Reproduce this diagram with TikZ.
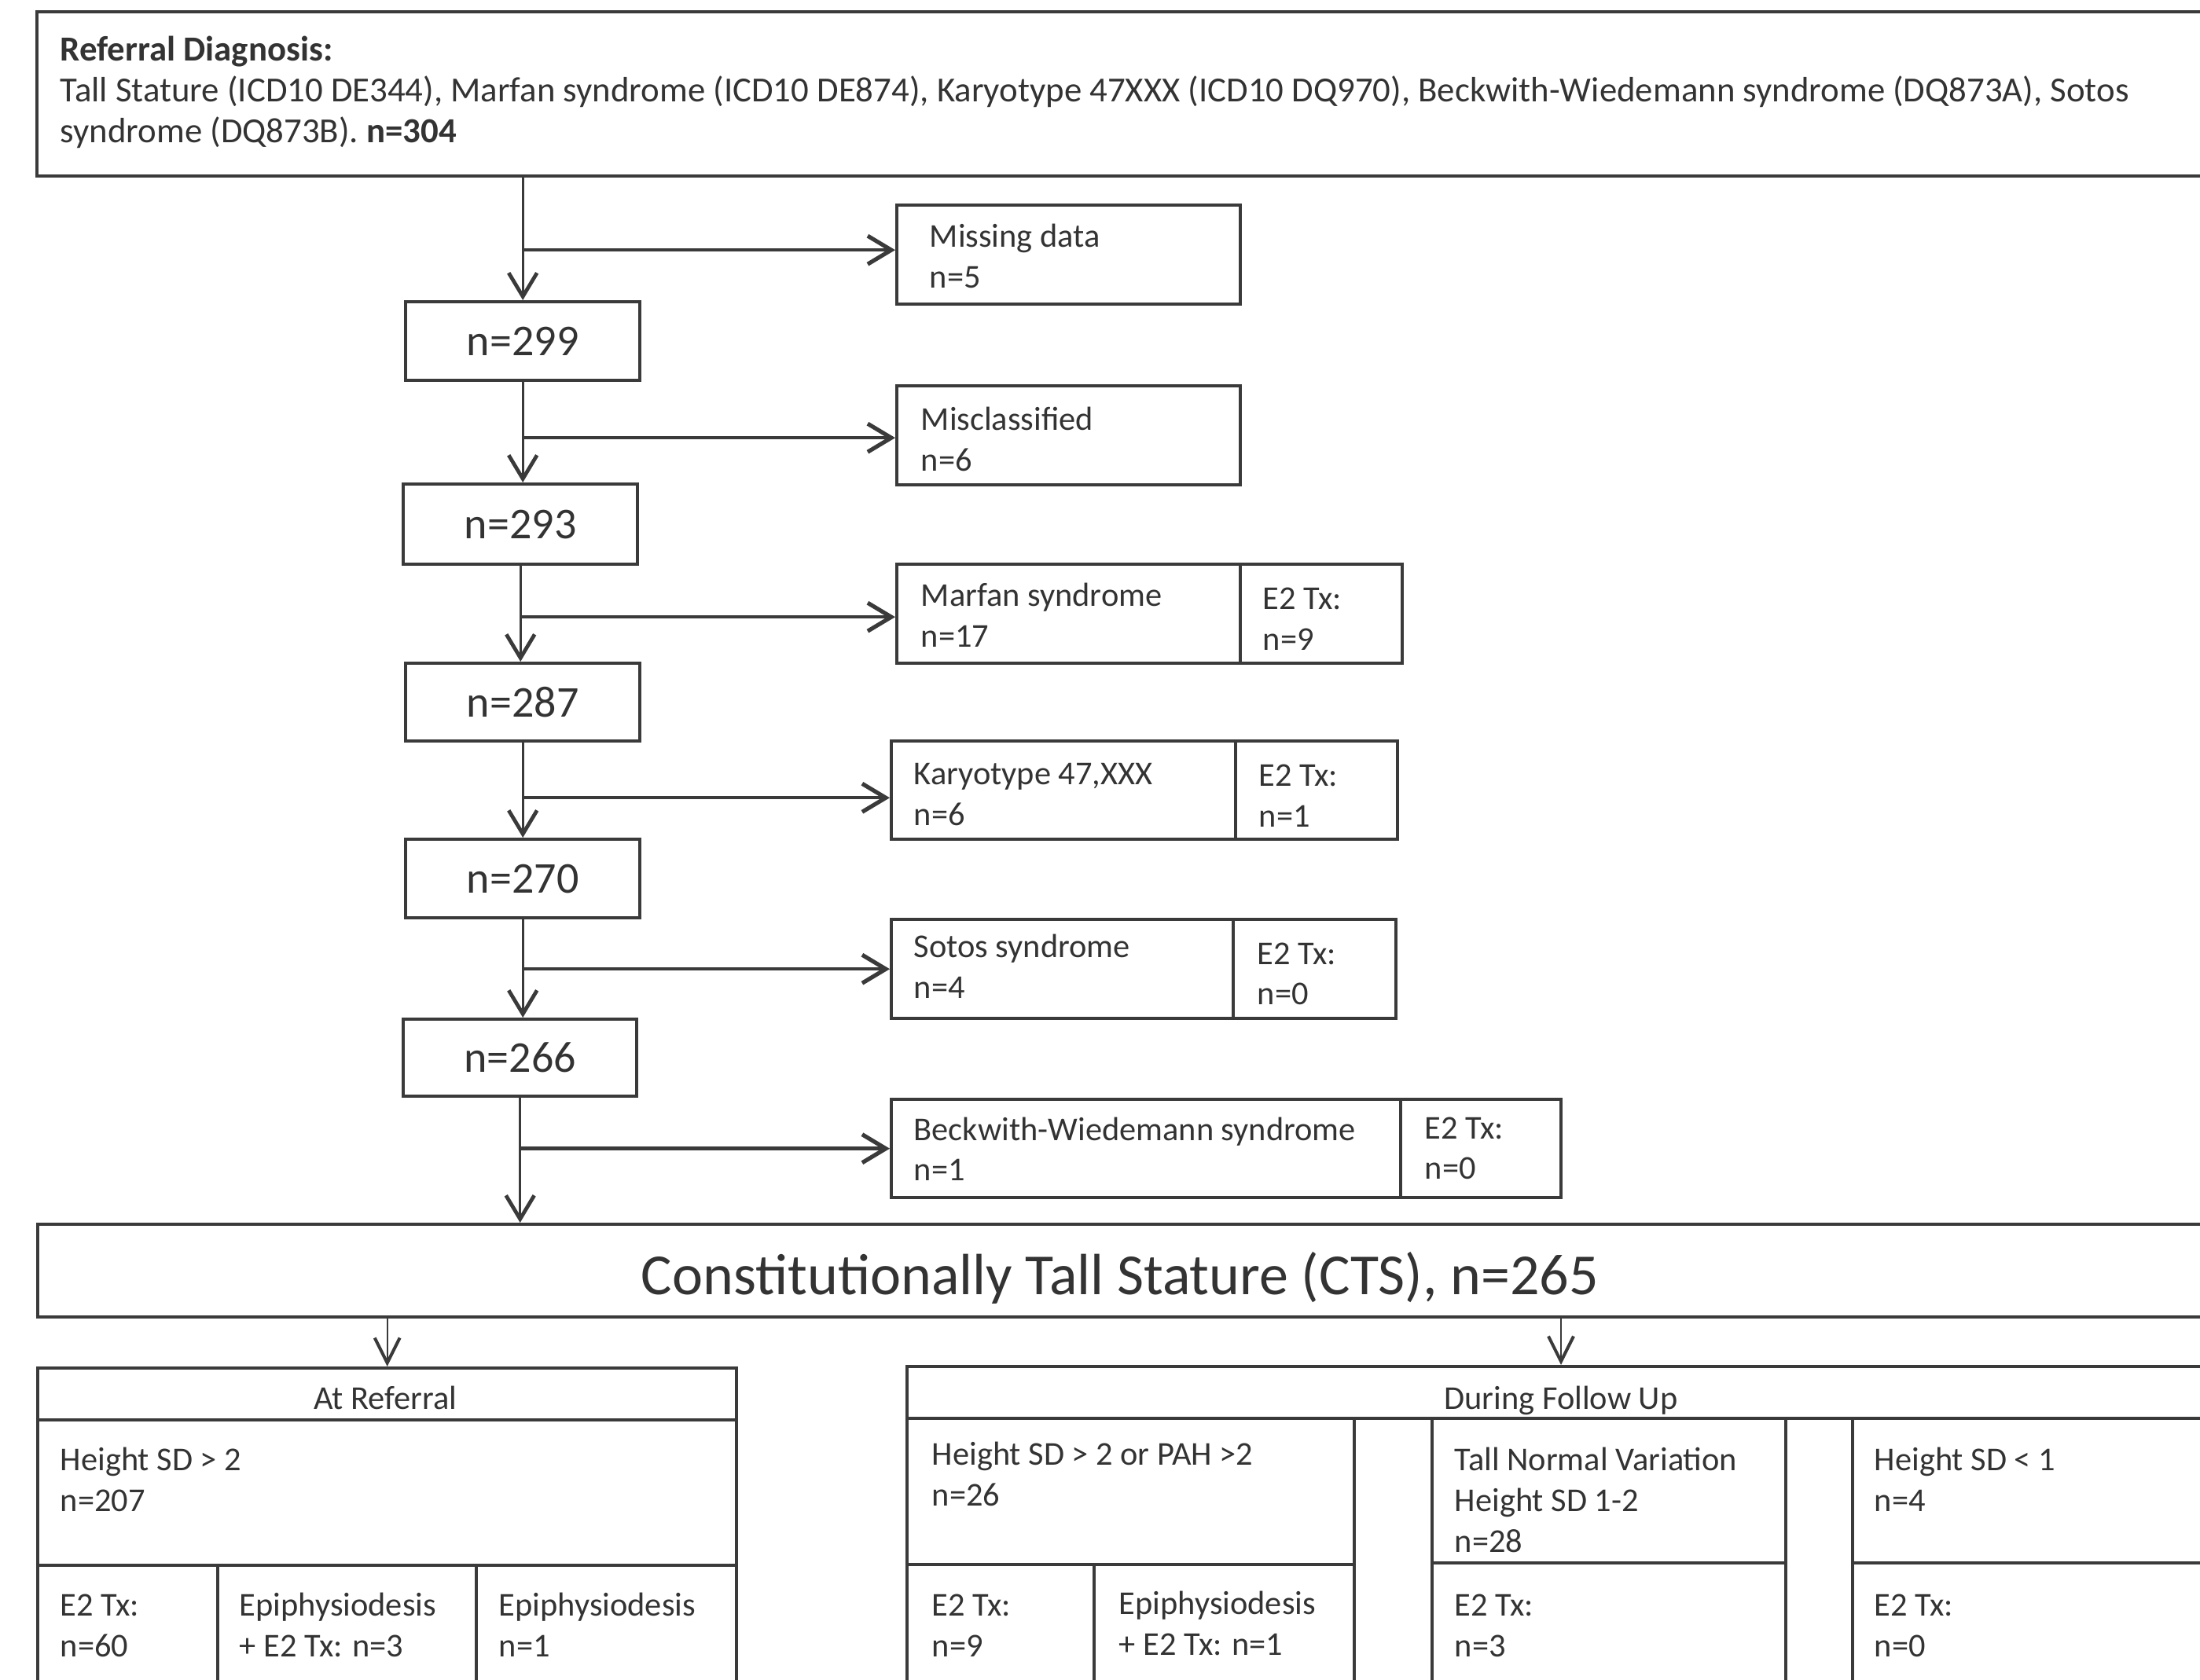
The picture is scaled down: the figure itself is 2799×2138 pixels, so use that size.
\documentclass[tikz,border=0pt]{standalone}
\usepackage{fontspec}
\setmainfont{Carlito}
\usetikzlibrary{arrows.meta}
\definecolor{linec}{HTML}{3A3A3A}
\definecolor{txtc}{HTML}{333333}
\tikzset{
  bx/.style 2 args={draw=linec, line width=1.1pt, inner sep=0pt, minimum width=#1*0.25pt, minimum height=#2*0.25pt, anchor=north west},
  txt/.style={anchor=base west, inner sep=0pt, align=left, text=txtc, font=\fontsize{10.6}{13}\selectfont},
  toptxt/.style={anchor=base west, inner sep=0pt, text=txtc, font=\fontsize{11.2}{13}\selectfont},
  ctxt/.style={anchor=base, inner sep=0pt, text=txtc, font=\fontsize{10.6}{13}\selectfont},
  big/.style={text=txtc, font=\fontsize{14}{16}\selectfont},
  arr/.style={draw=linec, line width=0.8pt, -{Straight Barb[length=7.5pt,width=9pt,line width=1.2pt]}},
  arrh/.style={draw=linec, line width=1.1pt, -{Straight Barb[length=7.5pt,width=9pt,line width=1.3pt]}},
  arrs/.style={draw=linec, line width=0.6pt, -{Straight Barb[length=8pt,width=8pt,line width=1pt]}}
}
\begin{document}
\begin{tikzpicture}[x=0.25pt,y=-0.25pt]
\useasboundingbox (0,0) rectangle (2799,2138);
\clip (0,0) rectangle (2799,2138);
% top box
\node[bx={2765}{209}] (top) at (45,13) {};
\node[toptxt] (refd) at (76,78) {\textbf{Referral Diagnosis:}};
\node[toptxt] (refl2) at (76,130) {Tall Stature (ICD10 DE344), Marfan syndrome (ICD10 DE874), Karyotype 47XXX (ICD10 DQ970), Beckwith-Wiedemann syndrome (DQ873A), Sotos};
\node[toptxt] (refl3) at (76,182) {syndrome (DQ873B). \textbf{n=304}};
% main column
\node[bx={298}{100},big] (n299) at (514,382) {n=299};
\node[bx={298}{102},big] (n293) at (511,614) {n=293};
\node[bx={298}{99},big] (n287) at (514,842) {n=287};
\node[bx={298}{100},big] (n270) at (514,1066) {n=270};
\node[bx={297}{98},big] (n266) at (511,1295) {n=266};
\node[bx={2760}{118}] (cts) at (46,1556) {};
\node[anchor=base, inner sep=0pt, text=txtc, font=\fontsize{18.5}{20}\selectfont] (ctst) at (1425,1648) {Constitutionally Tall Stature (CTS), n=265};
% side boxes (text nodes anchored at the baseline of their last line)
\node[bx={437}{126}] (miss) at (1139,259) {};
\node[txt] (misst) at (1182,367) {Missing data\\n=5};
\node[bx={437}{126}] (miscl) at (1139,489) {};
\node[txt] (misclt) at (1171,600) {Misclassified\\n=6};
\node[bx={437}{126}] (marf) at (1139,716) {};
\node[bx={206}{126}] (marfe) at (1576,716) {};
\node[txt] (marft) at (1171,824) {Marfan syndrome\\n=17};
\node[txt] (marfet) at (1606,828) {E2 Tx:\\n=9};
\node[bx={438}{125}] (kary) at (1132,941) {};
\node[bx={206}{125}] (karye) at (1570,941) {};
\node[txt] (karyt) at (1162,1051) {Karyotype 47,XXX\\n=6};
\node[txt] (karyet) at (1601,1053) {E2 Tx:\\n=1};
\node[bx={435}{126}] (sotos) at (1132,1168) {};
\node[bx={207}{126}] (sotose) at (1567,1168) {};
\node[txt] (sotost) at (1162,1271) {Sotos syndrome\\n=4};
\node[txt] (sotoset) at (1599,1279) {E2 Tx:\\n=0};
\node[bx={648}{125}] (bw) at (1132,1397) {};
\node[bx={204}{125}] (bwe) at (1780,1397) {};
\node[txt] (bwt) at (1162,1503) {Beckwith-Wiedemann syndrome\\n=1};
\node[txt] (bwet) at (1812,1501) {E2 Tx:\\n=0};
% branch points
\coordinate (bmiss) at ([yshift=1.5pt]miss.west);
\coordinate (bmiscl) at ([yshift=-0.75pt]miscl.west);
\coordinate (bmarf) at ([yshift=-1pt]marf.west);
\coordinate (bkary) at ([yshift=-2.4pt]kary.west);
\coordinate (bsotos) at (sotos.west);
\coordinate (bbw) at (bw.west);
% connectors main column
\draw[arr] (top.south -| n299.north) -- (n299.north);
\draw[arrh] (n299.north |- bmiss) -- (bmiss);
\draw[arr] (n299.south) -- (n299.south |- n293.north);
\draw[arrh] (n299.south |- bmiscl) -- (bmiscl);
\draw[arr] (n293.south) -- (n293.south |- n287.north);
\draw[arrh] (n293.south |- bmarf) -- (bmarf);
\draw[arr] (n287.south) -- (n287.south |- n270.north);
\draw[arrh] (n287.south |- bkary) -- (bkary);
\draw[arr] (n270.south) -- (n270.south |- n266.north);
\draw[arrh] (n270.south |- bsotos) -- (bsotos);
\draw[arr] (n266.south) -- (n266.south |- cts.north);
\draw[arrh] (n266.south |- bbw) -- (bbw);
% At referral
\node[bx={889}{66}] (refh) at (46,1739) {};
\node[ctxt] (refht) at (490,1794) {At Referral};
\node[bx={889}{185}] (refm) at (46,1805) {};
\node[txt] (refmt) at (76,1923) {Height SD > 2\\n=207};
\node[bx={229}{250}] (refb1) at (46,1990) {};
\node[bx={329}{250}] (refb2) at (275,1990) {};
\node[bx={331}{250}] (refb3) at (604,1990) {};
\node[txt] (refb1t) at (76,2108) {E2 Tx:\\n=60};
\node[txt] (refb2t) at (304,2108) {Epiphysiodesis\\+ E2 Tx: n=3};
\node[txt] (refb3t) at (634,2108) {Epiphysiodesis\\n=1};
% During follow up
\node[bx={1668}{66}] (fuh) at (1152,1737) {};
\node[ctxt] (fuht) at (1986,1794) {During Follow Up};
\node[bx={569}{186}] (fu1) at (1152,1803) {};
\node[txt] (fu1t) at (1185,1916) {Height SD > 2 or PAH >2\\n=26};
\node[bx={238}{250}] (fu1b1) at (1152,1989) {};
\node[bx={331}{250}] (fu1b2) at (1390,1989) {};
\node[txt] (fu1b1t) at (1185,2108) {E2 Tx:\\n=9};
\node[txt] (fu1b2t) at (1423,2106) {Epiphysiodesis\\+ E2 Tx: n=1};
\node[bx={450}{184}] (fu2) at (1820,1803) {};
\node[txt] (fu2t) at (1850,1975) {Tall Normal Variation\\Height SD 1-2\\n=28};
\node[bx={450}{250}] (fu2b) at (1820,1987) {};
\node[txt] (fu2bt) at (1850,2108) {E2 Tx:\\n=3};
\node[bx={500}{184}] (fu3) at (2355,1803) {};
\node[txt] (fu3t) at (2384,1923) {Height SD < 1\\n=4};
\node[bx={500}{250}] (fu3b) at (2355,1987) {};
\node[txt] (fu3bt) at (2384,2108) {E2 Tx:\\n=0};
% CTS arrows
\draw[arrs] (cts.south -| refh.north) -- (refh.north);
\draw[arrs] (cts.south -| fuht.base) -- (fuh.north -| fuht.base);
\end{tikzpicture}
\end{document}
